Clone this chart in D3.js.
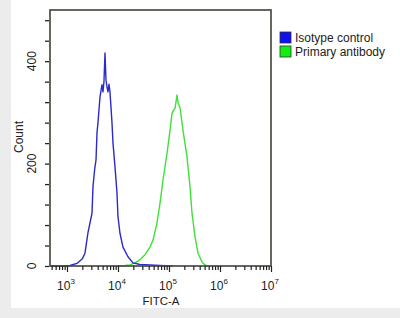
<!DOCTYPE html>
<html>
<head>
<meta charset="utf-8">
<script src="https://cdn.jsdelivr.net/npm/d3@7"></script>
<style>
	html, body { margin: 0; padding: 0; background: #ececec; }
	svg { display: block; font-family: "Liberation Sans", Arial, sans-serif; }
</style>
</head>
<body>
<svg id="chart" width="400" height="318"></svg>
<script>
// fluorescence (FITC-A) and event counts
const isotypeFitc = [464, 835, 1145, 1570, 2000, 2254, 2580, 3093, 3236, 3500, 3707, 3875, 4055, 4436, 4853, 5080, 5310, 5560, 5820, 6085, 6365, 6660, 6970, 7625, 7980, 8730, 9550, 10000, 10940, 12530, 15700, 19680, 26980, 42360, 66700, 119700];
const isotypeCount = [0, 0, 1, 5, 14, 25, 65, 103, 155, 190, 207, 260, 280, 330, 354, 340, 360, 416, 363, 350, 340, 355, 340, 280, 240, 194, 143, 96, 64, 37, 18, 6, 3, 2, 1, 0];
const primaryFitc = [9550, 13700, 17180, 21540, 26980, 33810, 42360, 48500, 58200, 66700, 76300, 91400, 104700, 114600, 124000, 131200, 137000, 143600, 151000, 164400, 188300, 225600, 258200, 282600, 323600, 370700, 443600, 508200, 582100];
const primaryCount = [0, 1, 2, 6, 12, 22, 37, 50, 84, 123, 168, 220, 265, 298, 305, 308, 320, 334, 318, 310, 265, 213, 155, 103, 57, 25, 8, 2, 0];

const seriesNames = ["Isotype control", "Primary antibody"];
const seriesColors = ["#2b2bc8", "#3ee03a"];
const legendColors = ["#1010f0", "#10f010"];

const xDecades = [3, 4, 5, 6, 7];
const yTicks = d3.range(0, 481, 40);
const yLabels = [0, 200, 400];

const svg = d3.select("#chart");
svg.append("rect").attr("x", 11).attr("y", 0).attr("width", 389).attr("height", 308).attr("fill", "#ffffff");

const plotLeft = 50, plotRight = 271, plotTop = 10, plotBottom = 266;
const x = d3.scaleLog().domain([Math.pow(10, 2.667), 1e7]).range([plotLeft, plotRight]);
const y = d3.scaleLinear().domain([0, 500]).range([plotBottom, plotTop]);

const plot = svg.append("g");

// histogram lines, green first so blue sits on top
const line = d3.line().x(d => x(d[0])).y(d => y(d[1]));
const series = [
	{ data: d3.zip(primaryFitc, primaryCount), color: seriesColors[1] },
	{ data: d3.zip(isotypeFitc, isotypeCount), color: seriesColors[0] },
];
series.forEach(s => {
	plot.append("path")
		.datum(s.data)
		.attr("d", line)
		.attr("fill", "none")
		.attr("stroke", s.color)
		.attr("stroke-width", 1.4)
		.attr("stroke-linejoin", "round");
});

// frame
svg.append("rect")
	.attr("x", plotLeft).attr("y", plotTop)
	.attr("width", plotRight - plotLeft).attr("height", plotBottom - plotTop)
	.attr("fill", "none").attr("stroke", "#4d4d45").attr("stroke-width", 1.7);

// x axis, log ticks
const minorVals = [];
for (let e = 2; e < 7; e++) {
	for (let m = 2; m <= 9; m++) {
		const v = m * Math.pow(10, e);
		if (v >= x.domain()[0] && v <= 1e7) minorVals.push(v);
	}
}
const xAxisMinor = d3.axisBottom(x).tickValues(minorVals).tickSize(4).tickFormat("");
const xAxisMajor = d3.axisBottom(x).tickValues(xDecades.map(e => Math.pow(10, e))).tickSize(6).tickFormat("");
[xAxisMinor, xAxisMajor].forEach(ax => {
	const g = svg.append("g").attr("transform", `translate(0,${plotBottom})`).call(ax);
	g.select(".domain").remove();
	g.selectAll("line").attr("stroke", "#222").attr("stroke-width", 1.2);
});
const xLab = svg.append("g").selectAll("text").data(xDecades).enter().append("text")
	.attr("x", d => x(Math.pow(10, d)) - 1)
	.attr("y", 290)
	.attr("text-anchor", "middle")
	.attr("font-size", 12)
	.attr("fill", "#222");
xLab.append("tspan").text("10");
xLab.append("tspan").attr("dy", -6).attr("font-size", 8).text(d => d);

// y axis
const yAxis = d3.axisLeft(y).tickValues(yTicks).tickSize(4).tickFormat("");
const yg = svg.append("g").attr("transform", `translate(${plotLeft - 1},0)`).call(yAxis);
yg.select(".domain").remove();
yg.selectAll("line").attr("stroke", "#222").attr("stroke-width", 1.3);
svg.append("g").selectAll("text").data(yLabels).enter().append("text")
	.attr("transform", d => `translate(36,${y(d)}) rotate(-90)`)
	.attr("text-anchor", "middle")
	.attr("font-size", 12)
	.attr("fill", "#222")
	.text(d => d);

// axis titles
svg.append("text")
	.attr("transform", "translate(23,137) rotate(-90)")
	.attr("text-anchor", "middle")
	.attr("font-size", 12)
	.attr("fill", "#222")
	.text("Count");
svg.append("text")
	.attr("x", 161).attr("y", 305)
	.attr("text-anchor", "middle")
	.attr("font-size", 11.5)
	.attr("fill", "#222")
	.text("FITC-A");

// legend
const legend = svg.append("g").selectAll("g").data(seriesNames).enter().append("g")
	.attr("transform", (d, i) => `translate(280,${32 + i * 14})`);
legend.append("rect")
	.attr("width", 11).attr("height", 11)
	.attr("fill", (d, i) => legendColors[i])
	.attr("stroke", "#333").attr("stroke-width", 0.8);
legend.append("text")
	.attr("x", 15).attr("y", 10)
	.attr("font-size", 12)
	.attr("fill", "#222")
	.text(d => d);
</script>
</body>
</html>
